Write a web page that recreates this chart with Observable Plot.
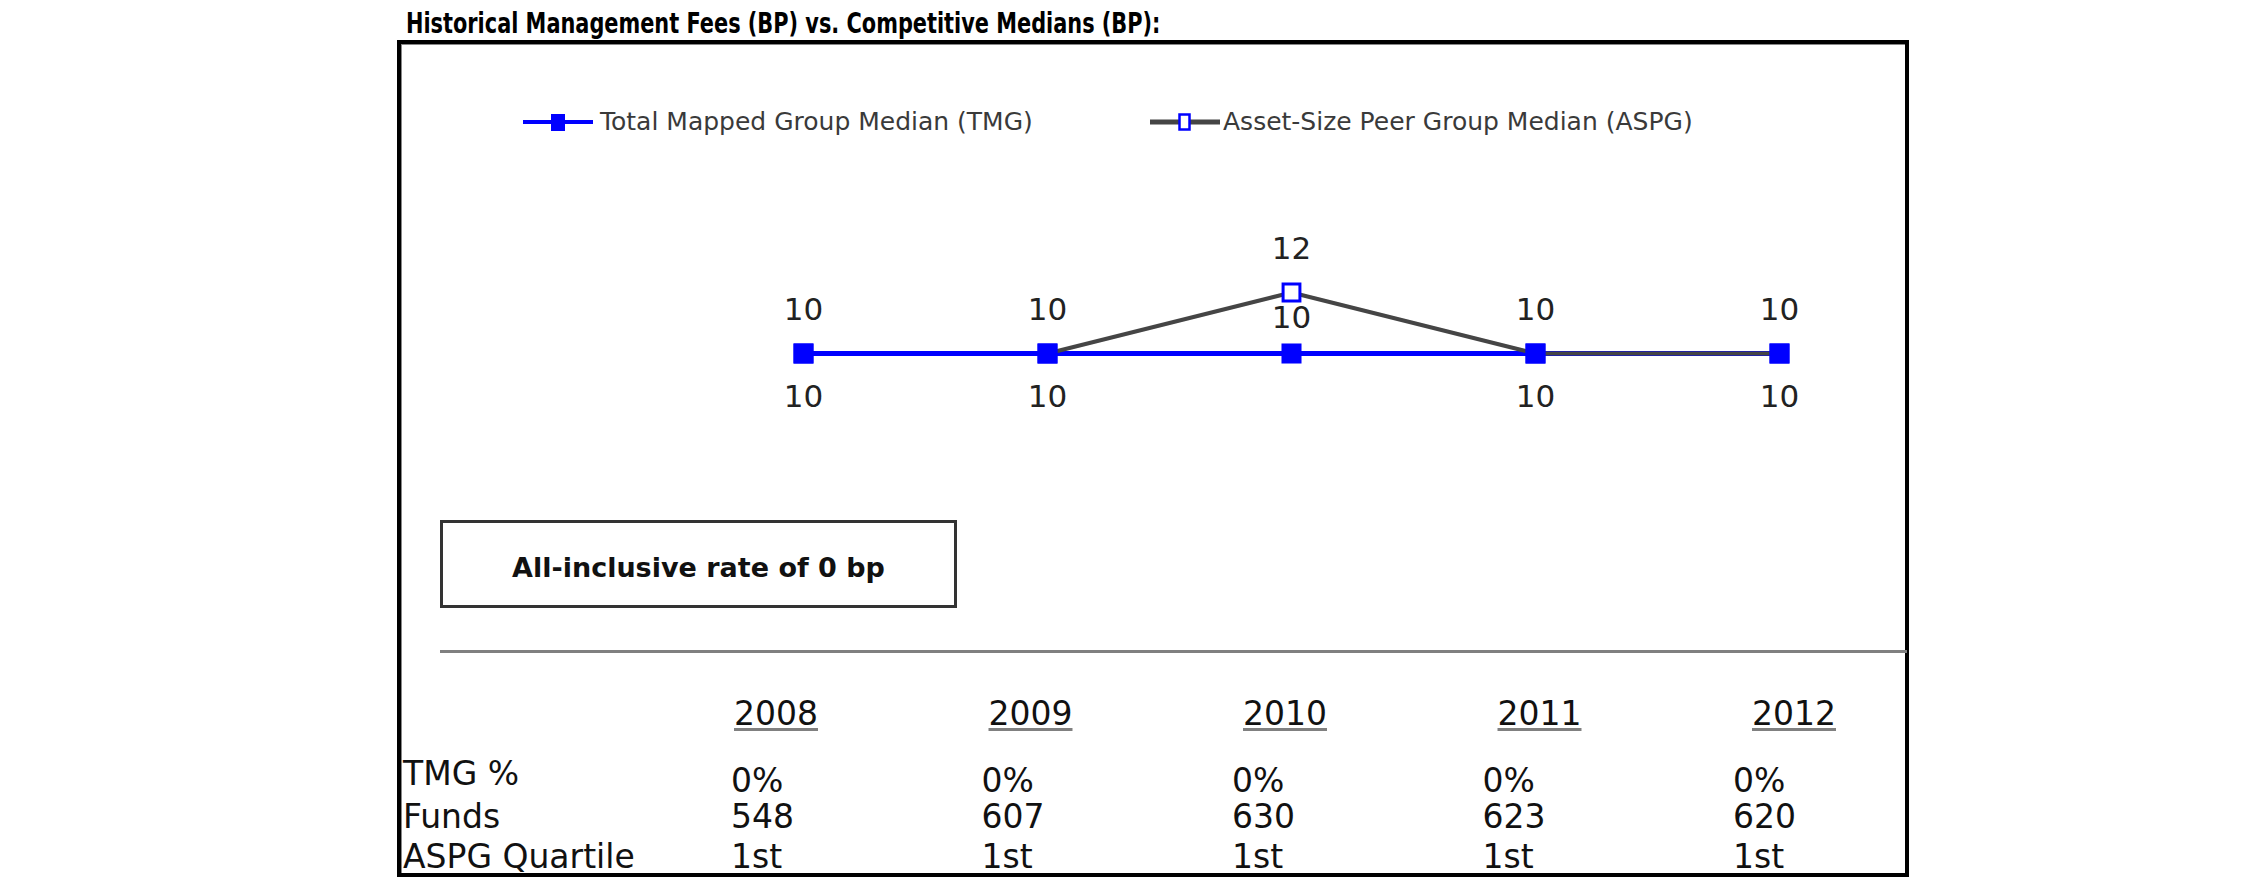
<!DOCTYPE html>
<html>
<head>
<meta charset="utf-8">
<script src="https://cdn.jsdelivr.net/npm/d3@7"></script>
<script src="https://cdn.jsdelivr.net/npm/@observablehq/plot@0.6"></script>
<style>
  html, body { margin: 0; padding: 0; background: #fff; }
  #root { position: relative; width: 2250px; height: 895px; font-family: "DejaVu Sans", Verdana, sans-serif; overflow: hidden; }
  .abs { position: absolute; white-space: nowrap; }
  #title { left: 406px; top: 7px; font-size: 28px; line-height: 33px; font-weight: bold; color: #000; transform: scaleX(0.745); transform-origin: 0 50%; }
  #frame { left: 397px; top: 40px; width: 1512px; height: 837px; box-sizing: border-box; border: 4px solid #000; box-shadow: inset 1px 1px 0 #888; }
  .legtext { font-size: 25px; line-height: 30px; color: #3a3a3a; }
  #note { left: 440px; top: 520px; width: 517px; height: 88px; box-sizing: border-box; border: 3px solid #333; display: flex; align-items: center; justify-content: center; padding-top: 6px; font-size: 27px; font-weight: bold; color: #111; }
  #sep { left: 440px; top: 650px; width: 1467px; height: 3px; background: #808080; }
  .cell { font-size: 33px; line-height: 34px; color: #111; }
  .year { text-decoration: underline; text-decoration-color: #808080; text-decoration-thickness: 3px; text-underline-offset: 3px; }
</style>
</head>
<body>
<div id="root"></div>
<script>
// ---------- data ----------
const titleText = "Historical Management Fees (BP) vs. Competitive Medians (BP):";
const years = ["2008", "2009", "2010", "2011", "2012"];
const seriesNames = ["Total Mapped Group Median (TMG)", "Asset-Size Peer Group Median (ASPG)"];
const tmg = [10, 10, 10, 10, 10];
const aspg = [10, 10, 12, 10, 10];
const noteText = "All-inclusive rate of 0 bp";
const rowLabels = ["TMG %", "Funds", "ASPG Quartile"];
const tmgPct = ["0%", "0%", "0%", "0%", "0%"];
const funds = ["548", "607", "630", "623", "620"];
const quartile = ["1st", "1st", "1st", "1st", "1st"];

const rows = years.map((year, i) => ({year, tmg: tmg[i], aspg: aspg[i]}));

const root = document.getElementById("root");
function add(cls, id, html, style) {
  const el = document.createElement("div");
  el.className = "abs " + (cls || "");
  if (id) el.id = id;
  el.textContent = html;
  if (style) Object.assign(el.style, style);
  root.appendChild(el);
  return el;
}

// title + frame
add("", "title", titleText);
add("", "frame", "");

// legend
const BLUE = "#0000ff", GRAY = "#454545";
function legendIcon(left, lineColor, lineW, filled) {
  const svg = d3.create("svg").attr("width", 70).attr("height", 24)
    .style("position", "absolute").style("left", left + "px").style("top", "110px");
  svg.append("line").attr("x1", 0).attr("x2", 70).attr("y1", 12).attr("y2", 12)
    .attr("stroke", lineColor).attr("stroke-width", lineW);
  if (filled) svg.append("rect").attr("x", 28).attr("y", 4).attr("width", 14).attr("height", 17).attr("fill", BLUE);
  else svg.append("rect").attr("x", 29.5).attr("y", 4.5).attr("width", 10).attr("height", 15)
    .attr("fill", "white").attr("stroke", BLUE).attr("stroke-width", 2.5);
  root.appendChild(svg.node());
}
legendIcon(523, BLUE, 4, true);
add("legtext", null, seriesNames[0], {left: "600px", top: "107px"});
legendIcon(1150, GRAY, 5, false);
add("legtext", null, seriesNames[1], {left: "1223px", top: "107px"});

// chart
const same = rows.filter(d => d.aspg === d.tmg);
const diff = rows.filter(d => d.aspg !== d.tmg);
const chart = Plot.plot({
  width: 1507, height: 320,
  marginLeft: 403, marginRight: 128, marginTop: 91, marginBottom: 46,
  x: {type: "point", domain: years, padding: 0, axis: null},
  y: {domain: [8, 14], axis: null},
  style: {background: "transparent", overflow: "visible", fontFamily: "DejaVu Sans"},
  marks: [
    Plot.line(rows, {x: "year", y: "tmg", stroke: BLUE, strokeWidth: 5}),
    Plot.line(rows, {x: "year", y: "aspg", stroke: GRAY, strokeWidth: 4}),
    Plot.line(rows.slice(0, 2), {x: "year", y: "tmg", stroke: BLUE, strokeWidth: 5}),
    Plot.dot(rows, {x: "year", y: "aspg", symbol: "square", r: 9.5, fill: "white", stroke: BLUE, strokeWidth: 3}),
    Plot.dot(rows, {x: "year", y: "tmg", symbol: "square", r: 11.3, fill: BLUE}),
    Plot.text(rows, {x: "year", y: "aspg", text: d => String(d.aspg), dy: -43, fontSize: 31, fill: "#222"}),
    Plot.text(same, {x: "year", y: "tmg", text: d => String(d.tmg), dy: 44, fontSize: 31, fill: "#222"}),
    Plot.text(diff, {x: "year", y: "tmg", text: d => String(d.tmg), dy: -35, fontSize: 31, fill: "#222"})
  ]
});
chart.style.position = "absolute";
chart.style.left = "400px";
chart.style.top = "140px";
chart.style.maxWidth = "none";
root.appendChild(chart);

// note box + separator
add("", "note", noteText);
add("", "sep", "");

// table
const yearX = d3.scalePoint().domain(years).range([776, 1794]);
const valX = d3.scalePoint().domain(years).range([731, 1733]);
years.forEach(y => {
  add("cell year", null, y, {left: yearX(y) + "px", top: "697px", transform: "translateX(-50%)"});
});
add("cell", null, rowLabels[0], {left: "403px", top: "757px"});
add("cell", null, rowLabels[1], {left: "403px", top: "800px"});
add("cell", null, rowLabels[2], {left: "403px", top: "840px"});
years.forEach((y, i) => {
  add("cell", null, tmgPct[i], {left: valX(y) + "px", top: "764px"});
  add("cell", null, funds[i], {left: valX(y) + "px", top: "800px"});
  add("cell", null, quartile[i], {left: valX(y) + "px", top: "840px"});
});
</script>
</body>
</html>
